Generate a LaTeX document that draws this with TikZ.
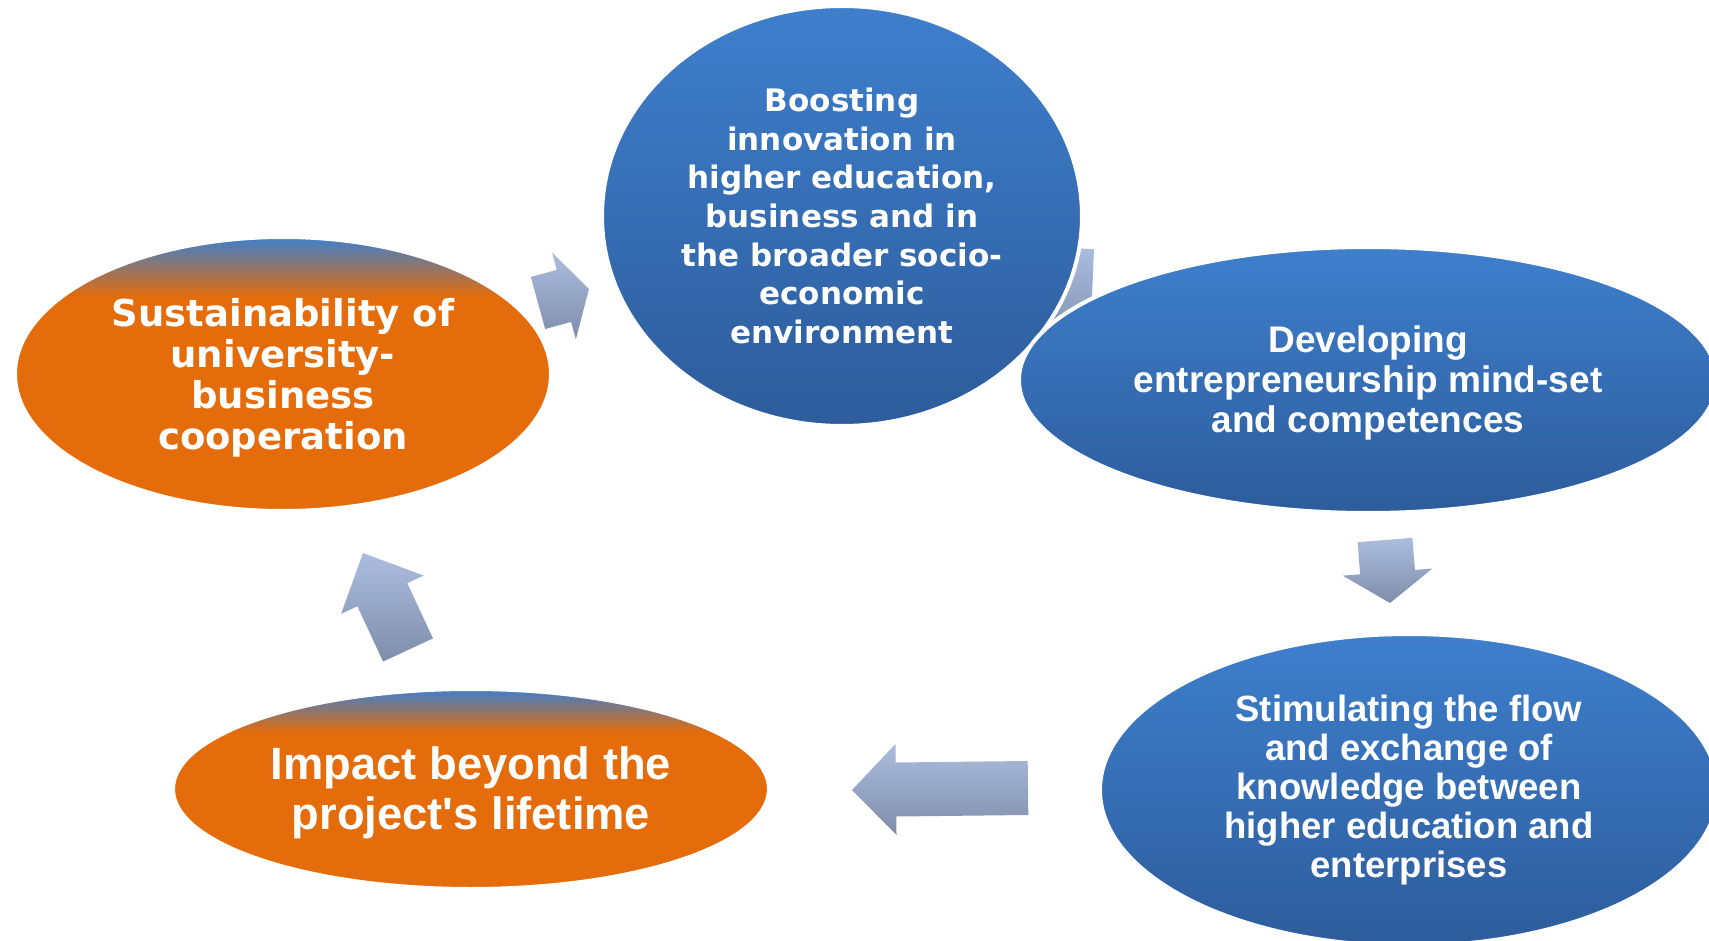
\documentclass[tikz,border=0pt]{standalone}
\usepackage{fontspec}
\newfontfamily\widefont{DejaVu Sans}
\newfontfamily\plainfont{Liberation Sans}
\usetikzlibrary{calc,shapes.geometric}
\definecolor{bluetop}{RGB}{62,127,205}
\definecolor{bluebot}{RGB}{45,92,155}
\definecolor{orng}{RGB}{228,108,10}
\definecolor{arrowtop}{RGB}{171,189,223}
\definecolor{arrowbot}{RGB}{127,141,170}
\pgfdeclareverticalshading{orangecap}{100bp}{color(0bp)=(orng); color(64bp)=(orng); color(75bp)=(bluetop); color(100bp)=(bluetop)}
\tikzstyle{goal}=[ellipse,draw=white,line width=4pt,inner sep=0pt,align=center,text=white]
\tikzstyle{bluegoal}=[goal,top color=bluetop,bottom color=bluebot]
\tikzstyle{orangegoal}=[goal,shading=orangecap]
\tikzstyle{arrowshade}=[top color=arrowtop,bottom color=arrowbot,draw=none]
\newcommand{\blockarrow}[5]{%
  \coordinate (#1base) at ($(#2)!#5!(#1)$);
  \path[arrowshade] ($(#1)!#3!90:(#2)$) -- ($(#1base)!#3!90:(#2)$) -- ($(#1base)!#4!90:(#2)$) -- (#2)
    -- ($(#1base)!#4!-90:(#2)$) -- ($(#1base)!#3!-90:(#2)$) -- ($(#1)!#3!-90:(#2)$) -- cycle;
}

\begin{document}
\begin{tikzpicture}[x=1pt,y=-1pt]
	\useasboundingbox (0,0) rectangle (1709,941);

	\coordinate (tail1) at (538,303);
	\coordinate (tip1) at (589,289);
	\coordinate (tail2) at (1066,248);
	\coordinate (tip2) at (1062,345);
	\coordinate (tail3) at (1385,540);
	\coordinate (tip3) at (1390,603);
	\coordinate (tail4) at (1028,788);
	\coordinate (tip4) at (852,790);
	\coordinate (tail5) at (408,650);
	\coordinate (tip5) at (363,553);

	\blockarrow{tail1}{tip1}{27pt}{45pt}{26pt}
	\blockarrow{tail2}{tip2}{28pt}{45pt}{45pt}
	\blockarrow{tail3}{tip3}{27.5pt}{45pt}{31pt}
	\blockarrow{tail4}{tip4}{27pt}{45.5pt}{44pt}
	\blockarrow{tail5}{tip5}{27.5pt}{45.5pt}{46pt}

	\node[bluegoal, minimum width=480pt, minimum height=420pt, font=\widefont\bfseries\fontsize{31}{38.7}\selectfont] (goal1) at (842,216)
		{Boosting\\innovation in\\higher education,\\business and in\\the broader socio-\\economic\\environment};
	\node[orangegoal, minimum width=536pt, minimum height=274pt, font=\widefont\bfseries\fontsize{37}{41}\selectfont] (goal2) at (283,374)
		{\rule{0pt}{35pt}Sustainability of\\university-\\business\\cooperation};
	\node[bluegoal, minimum width=698pt, minimum height=266pt, font=\plainfont\bfseries\fontsize{37}{40}\selectfont] (goal3) at (1368,380)
		{\rule{0pt}{32pt}Developing\\entrepreneurship mind-set\\and competences};
	\node[bluegoal, minimum width=618pt, minimum height=312pt, font=\plainfont\bfseries\fontsize{36.5}{39}\selectfont] (goal4) at (1409,790)
		{Stimulating the flow\\and exchange of\\knowledge between\\higher education and\\enterprises};
	\node[orangegoal, minimum width=596pt, minimum height=200pt, font=\plainfont\bfseries\fontsize{45.3}{50}\selectfont] (goal5) at (471,789)
		{\rule{0pt}{40pt}Impact beyond the\\project's lifetime};
\end{tikzpicture}
\end{document}
